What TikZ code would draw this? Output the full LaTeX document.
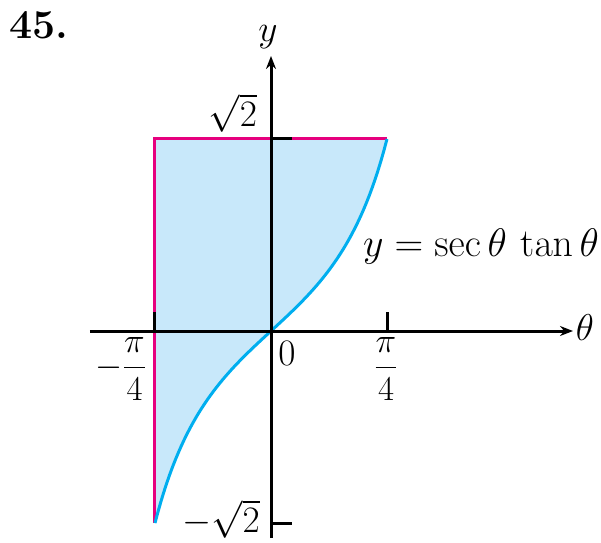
\documentclass[tikz,border=0pt]{standalone}
\usetikzlibrary{arrows.meta}
\definecolor{fillblue}{RGB}{200,232,250}
\definecolor{curveblue}{RGB}{0,174,239}
\definecolor{magentaline}{RGB}{230,0,126}
\newcommand{\mylbltext}[2]{\scalebox{#1}{\fontsize{24}{28}\selectfont #2}}
\begin{document}
\begin{tikzpicture}[x=147.7pt,y=135.8pt,
  axis/.style={line width=3pt,-{Stealth[length=13pt,width=10pt]}},
  tickline/.style={line width=3pt},
  lbl/.style={inner sep=0pt}]
\useasboundingbox (-271pt,-211pt) rectangle (330pt,331pt);
% region
\fill[fillblue] (-0.785398,1.414214) -- plot[domain=-0.785398:0.785398,samples=80] (\x,{sin(\x r)/(cos(\x r)^2)}) -- cycle;
% magenta boundaries
\draw[magentaline,line width=3pt] (-0.785398,-1.414214) coordinate (bl) -- (-0.785398,1.414214) coordinate (tl) -- (0.785398,1.414214) coordinate (tr);
% curve
\draw[curveblue,line width=3pt] plot[domain=-0.785398:0.785398,samples=80] (\x,{sin(\x r)/(cos(\x r)^2)});
% axes
\coordinate (xs) at (-181pt,0);
\coordinate (xe) at (302pt,0);
\coordinate (ys) at (0,-207pt);
\coordinate (ye) at (0,275pt);
\draw[axis] (xs) -- (xe);
\draw[axis] (ys) -- (ye);
% ticks
\draw[tickline] (0.785398,0) -- ++(0,19pt);
\draw[tickline] (-0.785398,0) -- ++(0,19pt);
\draw[tickline] (0,1.414214) -- ++(21pt,0);
\draw[tickline] (0,-1.414214) -- ++(21pt,0);
% labels
\node[inner sep=0pt,font=\fontsize{41}{46}\selectfont\bfseries] (num) at (-232pt,306pt) {45.};
\node[lbl] (ylab) at (-3pt,294pt) {\mylbltext{1.5}{$y$}};
\node[lbl] (tlab) at (314pt,3pt) {\mylbltext{1.5}{$\theta$}};
\node[lbl] (r2) at (-38pt,218pt) {\mylbltext{1.5}{$\sqrt{2}$}};
\node[lbl] (mr2) at (-50pt,-188pt) {\mylbltext{1.5}{$-\sqrt{2}$}};
\node[lbl] (zero) at (16pt,-22pt) {\mylbltext{1.5}{$0$}};
\node[lbl] (p4) at (115pt,-38pt) {\mylbltext{1.4}{$\displaystyle\frac{\pi}{4}$}};
\node[lbl] (mp4) at (-150pt,-38pt) {\mylbltext{1.4}{$\displaystyle-\frac{\pi}{4}$}};
\node[lbl] (eq) at (210pt,84pt) {\mylbltext{1.6}{$y=\sec\theta\,\tan\theta$}};
\end{tikzpicture}
\end{document}
